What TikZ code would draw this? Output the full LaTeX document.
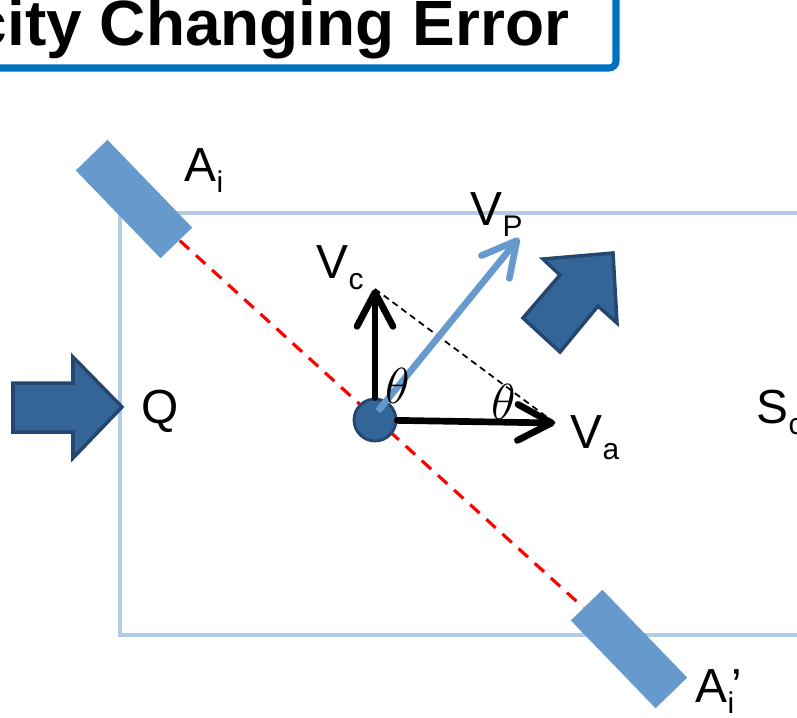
\documentclass[tikz,border=0pt]{standalone}
\usepackage{fontspec}
\setmainfont{Liberation Sans}
\usetikzlibrary{arrows.meta}
\definecolor{titleblue}{RGB}{0,112,192}
\definecolor{frameblue}{RGB}{178,204,230}
\definecolor{slabblue}{RGB}{102,153,204}
\definecolor{darkblue}{RGB}{52,101,153}
\definecolor{edgeblue}{RGB}{37,70,110}
\newcommand{\lowsub}[1]{\raisebox{-3.4pt}{\fontsize{8.5}{9}\selectfont #1}}

\begin{document}
\begin{tikzpicture}[x=0.01cm, y=-0.01cm,
	lbl/.style = {anchor = base west, inner sep = 0pt, font = \fontsize{13.6}{15}\selectfont},
	slab/.style = {fill = slabblue, rectangle, minimum width = 1.22cm, minimum height = 0.44cm, inner sep = 0pt, rotate = -46},
	vec/.style = {line width = 1.9pt, line cap = round, -{Straight Barb[length = 3.4mm, width = 3.6mm, round]}},
	fat/.style = {fill = darkblue, draw = edgeblue, line width = 1pt}]
	\useasboundingbox (0,0) rectangle (797,717);
	\clip (0,0) rectangle (797,717);
	% title box
	\draw [titleblue, line width = 2pt, fill = white, rounded corners = 2pt] (-40,-40) rectangle (616,68);
	\node [anchor = base east, inner sep = 0pt, font = \fontsize{18.2}{20}\selectfont\bfseries] (title) at (570,45) {city Changing Error};
	% frame and slabs
	\draw [frameblue, line width = 1.1pt] (840,213) -- (120,213) -- (120,635) -- (840,635);
	\node [slab] (ai) at (134,199) {};
	\node [slab] (aip) at (629,649) {};
	\draw [red, line width = 0.9pt, dash pattern = on 3.6pt off 2.6pt] (ai) -- (aip);
	% velocities
	\coordinate (vc) at (375,289);
	\coordinate (va) at (555,423);
	\coordinate (vp) at (519,238);
	\node [circle, fill = darkblue, draw = edgeblue, line width = 0.8pt, minimum size = 0.42cm, inner sep = 0pt] (o) at (375,420) {};
	\draw [vec] (o) -- (vc);
	\draw [vec] (o) -- (va);
	\draw [line width = 0.5pt, dash pattern = on 1.8pt off 1.3pt] (vc) -- (va);
	\draw [vec, slabblue, line cap = butt] ([shift = {(3,-9)}]o.center) -- (vp);
	\node [font = \fontsize{14}{14}\selectfont] (th1) at (398,386) {$\theta$};
	\node [font = \fontsize{14}{14}\selectfont] (th2) at (504,402) {$\theta$};
	% labels
	\node [lbl] (lvc) at (316,278) {V\lowsub{c}};
	\node [lbl] (lva) at (570,448) {V\lowsub{a}};
	\node [lbl] (lvp) at (470,225) {V\lowsub{P}};
	\node [lbl] (lsc) at (756,423) {S\lowsub{c}};
	\node [lbl] (lai) at (184,181) {A\lowsub{i}};
	\node [lbl] (laip) at (695,702) {A\rlap{\lowsub{i}}\kern1pt’};
	\node [lbl] (lq) at (141,423) {Q};
	% flow arrows
	\draw [fat] (13,383) -- (73,383) -- (73,357) -- (122,407) -- (73,458) -- (73,432) -- (13,432) -- cycle;
	\draw [fat] (613,253) -- (543,259) -- (560,275) -- (523,318) -- (560,352) -- (598,306) -- (617,323) -- cycle;
\end{tikzpicture}
\end{document}
